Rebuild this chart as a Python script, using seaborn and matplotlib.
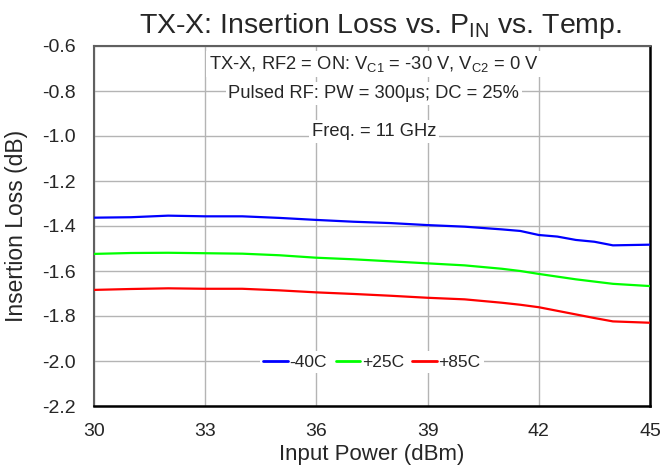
import matplotlib
matplotlib.use("Agg")
import matplotlib.pyplot as plt
import numpy as np
import pandas as pd
import seaborn as sns

# ---- Data ----
pin_dbm = [30, 31, 32, 33, 34, 35, 36, 37, 38, 39, 40, 41, 41.5, 42, 42.5, 43, 43.5, 44, 45]
loss_m40 = [-1.363, -1.361, -1.354, -1.357, -1.357, -1.364, -1.373, -1.381, -1.387, -1.396,
            -1.403, -1.415, -1.422, -1.440, -1.447, -1.462, -1.470, -1.486, -1.483]
loss_p25 = [-1.524, -1.520, -1.519, -1.521, -1.523, -1.530, -1.541, -1.548, -1.557, -1.566,
            -1.575, -1.590, -1.600, -1.613, -1.625, -1.637, -1.647, -1.657, -1.667]
loss_p85 = [-1.684, -1.680, -1.677, -1.679, -1.679, -1.686, -1.695, -1.702, -1.710, -1.719,
            -1.726, -1.741, -1.750, -1.761, -1.777, -1.793, -1.809, -1.824, -1.830]
temps = ["-40C", "+25C", "+85C"]
colors = ["#0000ff", "#00ff00", "#ff0000"]

x_ticks = [30, 33, 36, 39, 42, 45]
y_ticks = [-0.6, -0.8, -1.0, -1.2, -1.4, -1.6, -1.8, -2.0, -2.2]

df = pd.DataFrame({
    "pin": pin_dbm * 3,
    "loss": loss_m40 + loss_p25 + loss_p85,
    "temp": [temps[0]] * len(pin_dbm) + [temps[1]] * len(pin_dbm) + [temps[2]] * len(pin_dbm),
})

sns.set_style("white")
plt.rcParams["font.family"] = ["Liberation Sans", "DejaVu Sans"]
plt.rcParams["mathtext.fontset"] = "custom"
plt.rcParams["mathtext.rm"] = "Liberation Sans"
plt.rcParams["mathtext.it"] = "Liberation Sans"

fig = plt.figure(figsize=(6.63, 4.68), dpi=100)
ax = fig.add_axes([94 / 663, 1 - 406 / 468, 556 / 663, 360 / 468])

sns.lineplot(data=df, x="pin", y="loss", hue="temp", hue_order=temps,
             palette=colors, linewidth=1.6, ax=ax, zorder=3)

ax.set_xlim(30, 45)
ax.set_ylim(-2.2, -0.6)
ax.set_xticks(x_ticks)
ax.set_yticks(y_ticks)
ax.set_yticklabels([f"{v:.1f}" for v in y_ticks])
ax.tick_params(axis="y", labelsize=14, length=0, pad=13)
ax.tick_params(axis="x", labelsize=14, length=0, pad=12.5)
ax.grid(True, color="#b4b4b4", linewidth=1.0)
ax.set_axisbelow(True)
for side in ["left", "top"]:
    ax.spines[side].set_color("#606060")
    ax.spines[side].set_linewidth(1.5)
for side in ["right", "bottom"]:
    ax.spines[side].set_color("black")
    ax.spines[side].set_linewidth(1.8)

ax.set_xlabel("Input Power (dBm)", fontsize=16)
ax.set_ylabel("Insertion Loss (dB)", fontsize=16.5)
ax.xaxis.set_label_coords(0.5, -0.105)
ax.yaxis.set_label_coords(-0.119, 0.5)

fig.text(380 / 663, 1 - 33 / 468, r"TX-X: Insertion Loss vs. P$_{\mathrm{IN}}$ vs. Temp.",
         ha="center", va="baseline", fontsize=20.5)

# annotation block, white boxes hide the grid behind the text
note_x = 37.55
box = dict(facecolor="white", edgecolor="none", pad=2)
ax.text(note_x, -0.68, r"TX-X, RF2 = ON: V$_{\mathrm{C1}}$ = -30 V, V$_{\mathrm{C2}}$ = 0 V",
        ha="center", va="center", fontsize=13.2, bbox=box, zorder=4)
ax.text(note_x, -0.812, "Pulsed RF: PW = 300\u03bcs; DC = 25%",
        ha="center", va="center", fontsize=13.2, bbox=box, zorder=4)
ax.text(note_x, -0.98, "Freq. = 11 GHz",
        ha="center", va="center", fontsize=13.2, bbox=box, zorder=4)

leg = ax.legend(loc="center", bbox_to_anchor=(0.5, 0.122), ncol=3, fontsize=12.5,
                frameon=True, handlelength=1.4, handletextpad=0.1, columnspacing=0.5,
                borderpad=0.2, fancybox=False)
leg.get_frame().set_facecolor("white")
leg.get_frame().set_edgecolor("none")
leg.get_frame().set_alpha(1.0)
for line in leg.get_lines():
    line.set_linewidth(2.0)

fig.savefig("out.png", dpi=100)
